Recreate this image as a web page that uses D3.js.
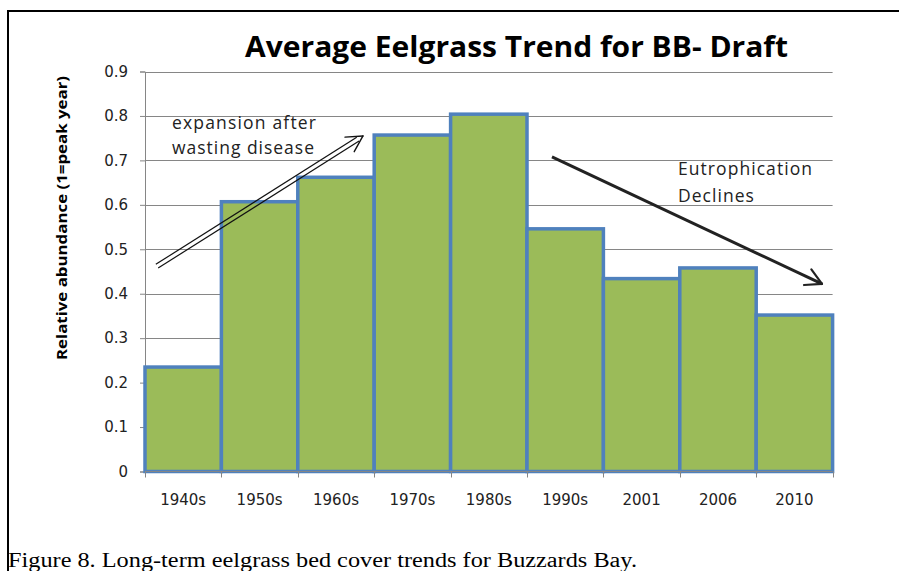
<!DOCTYPE html>
<html>
<head>
<meta charset="utf-8">
<script src="https://cdn.jsdelivr.net/npm/d3@7/dist/d3.min.js"></script>
<style>
  html, body { margin: 0; padding: 0; background: #fff; }
  svg { display: block; }
</style>
</head>
<body>
<svg id="chart" width="899" height="571"></svg>
<script>
// data
var decades = ["1940s", "1950s", "1960s", "1970s", "1980s", "1990s", "2001", "2006", "2010"];
var abundance = [0.235, 0.607, 0.662, 0.757, 0.804, 0.546, 0.434, 0.458, 0.352];
var yTicks = [0, 0.1, 0.2, 0.3, 0.4, 0.5, 0.6, 0.7, 0.8, 0.9];

// annotations in data space: x = position in category units, y = value
var riseArrow = [[0.157, 0.462], [2.853, 0.755]];
var fallArrow = [[5.327, 0.708], [8.861, 0.422]];
var riseText = ["expansion after", "wasting disease"];
var fallText = ["Eutrophication", "Declines"];

var svg = d3.select("#chart");
var plotLeft = 145, plotRight = 832.6, plotTop = 71.5, plotBottom = 471.5;

var x = d3.scaleBand().domain(decades).range([plotLeft, plotRight]).padding(0);
var xPos = d3.scaleLinear().domain([0, decades.length]).range([plotLeft, plotRight]);
var y = d3.scaleLinear().domain([0, 0.9]).range([plotBottom, plotTop]);

// frame of the figure
svg.append("line").attr("x1", 7).attr("x2", 899).attr("y1", 11).attr("y2", 11)
    .attr("stroke", "#000").attr("stroke-width", 2);
svg.append("line").attr("x1", 8).attr("x2", 8).attr("y1", 10).attr("y2", 571)
    .attr("stroke", "#000").attr("stroke-width", 2);

// title
svg.append("text")
    .attr("x", 245).attr("y", 57)
    .attr("textLength", 543).attr("lengthAdjust", "spacingAndGlyphs")
    .style("font-family", "'Open Sans', sans-serif")
    .style("font-weight", "bold").style("font-size", "28px")
    .attr("fill", "#000")
    .text("Average Eelgrass Trend for BB- Draft");

// gridlines
svg.append("g").selectAll("line")
    .data(yTicks.slice(1))
    .enter().append("line")
    .attr("x1", plotLeft).attr("x2", plotRight)
    .attr("y1", function (d) { return Math.round(y(d)) + 0.5; })
    .attr("y2", function (d) { return Math.round(y(d)) + 0.5; })
    .attr("stroke", "#868686").attr("stroke-width", 1);

// y axis
var yAxis = svg.append("g")
    .attr("transform", "translate(" + plotLeft + ",0)")
    .call(d3.axisLeft(y).tickValues(yTicks).tickSize(5).tickPadding(12)
        .tickFormat(function (d) { return d === 0 ? "0" : d3.format(".1f")(d); }));
yAxis.select(".domain").attr("stroke", "#868686");
yAxis.selectAll(".tick line").attr("stroke", "#868686");
yAxis.selectAll(".tick text")
    .style("font-family", "'DejaVu Sans', sans-serif").style("font-size", "15px")
    .attr("fill", "#222");

// bars
svg.append("g").selectAll("rect")
    .data(decades)
    .enter().append("rect")
    .attr("x", function (d) { return x(d); })
    .attr("y", function (d, i) { return y(abundance[i]); })
    .attr("width", x.bandwidth())
    .attr("height", function (d, i) { return plotBottom - y(abundance[i]); })
    .attr("fill", "#9bbb59")
    .attr("stroke", "#4f81bd")
    .attr("stroke-width", 3.5);

// x axis
var xAxisG = svg.append("g").attr("transform", "translate(0," + plotBottom + ")");
xAxisG.append("line").attr("x1", plotLeft).attr("x2", plotRight)
    .attr("stroke", "#868686");
xAxisG.selectAll("line.tk")
    .data(d3.range(decades.length + 1))
    .enter().append("line").attr("class", "tk")
    .attr("x1", function (d) { return Math.round(xPos(d)) + 0.5; })
    .attr("x2", function (d) { return Math.round(xPos(d)) + 0.5; })
    .attr("y1", 0).attr("y2", 6)
    .attr("stroke", "#868686");
xAxisG.selectAll("text")
    .data(decades)
    .enter().append("text")
    .attr("x", function (d) { return x(d) + x.bandwidth() / 2; })
    .attr("y", 33)
    .attr("text-anchor", "middle")
    .style("font-family", "'DejaVu Sans', sans-serif").style("font-size", "15px")
    .attr("fill", "#222")
    .text(String);

// y label
svg.append("text")
    .attr("transform", "translate(67,218) rotate(-90)")
    .attr("text-anchor", "middle")
    .attr("textLength", 284).attr("lengthAdjust", "spacingAndGlyphs")
    .style("font-family", "'Open Sans', sans-serif")
    .style("font-weight", "bold").style("font-size", "13.5px")
    .attr("fill", "#000")
    .text("Relative abundance  (1=peak year)");

// arrows
function arrowHead(g, p0, p1, color, width) {
    var ang = Math.atan2(p1[1] - p0[1], p1[0] - p0[0]);
    var len = 18, spread = 0.5;
    [ang + Math.PI - spread, ang + Math.PI + spread].forEach(function (a) {
        g.append("line")
            .attr("x1", p1[0]).attr("y1", p1[1])
            .attr("x2", p1[0] + len * Math.cos(a)).attr("y2", p1[1] + len * Math.sin(a))
            .attr("stroke", color).attr("stroke-width", width)
            .attr("stroke-linecap", "round");
    });
}

var ann = svg.append("g");
var r0 = [xPos(riseArrow[0][0]), y(riseArrow[0][1])];
var r1 = [xPos(riseArrow[1][0]), y(riseArrow[1][1])];
var ra = Math.atan2(r1[1] - r0[1], r1[0] - r0[0]);
[-2.2, 2.2].forEach(function (off) {
    var dx = -Math.sin(ra) * off, dy = Math.cos(ra) * off;
    ann.append("line")
        .attr("x1", r0[0] + dx).attr("y1", r0[1] + dy)
        .attr("x2", r1[0] + dx - 6 * Math.cos(ra)).attr("y2", r1[1] + dy - 6 * Math.sin(ra))
        .attr("stroke", "#111").attr("stroke-width", 1.2);
});
arrowHead(ann, r0, r1, "#111", 1.4);

var f0 = [xPos(fallArrow[0][0]), y(fallArrow[0][1])];
var f1 = [xPos(fallArrow[1][0]), y(fallArrow[1][1])];
ann.append("line")
    .attr("x1", f0[0]).attr("y1", f0[1]).attr("x2", f1[0]).attr("y2", f1[1])
    .attr("stroke", "#222").attr("stroke-width", 3);
arrowHead(ann, f0, f1, "#222", 2.2);

// annotation texts, stretched to the widths seen in the reference
function note(lines, widths, px, py0, py1) {
    [py0, py1].forEach(function (py, i) {
        ann.append("text")
            .attr("x", xPos(px)).attr("y", y(py))
            .attr("textLength", widths[i]).attr("lengthAdjust", "spacing")
            .style("font-family", "'Open Sans', sans-serif").style("font-size", "17.5px")
            .attr("fill", "#222")
            .text(lines[i]);
    });
}
note(riseText, [144, 142], 0.353, 0.771, 0.714);
note(fallText, [134, 76], 6.976, 0.667, 0.606);

// caption
svg.append("text")
    .attr("x", 8).attr("y", 567)
    .attr("textLength", 629).attr("lengthAdjust", "spacingAndGlyphs")
    .style("font-family", "'Liberation Serif', 'Times New Roman', serif")
    .style("font-size", "20px")
    .attr("fill", "#000")
    .text("Figure 8. Long-term eelgrass bed cover trends for Buzzards Bay.");
</script>
</body>
</html>
